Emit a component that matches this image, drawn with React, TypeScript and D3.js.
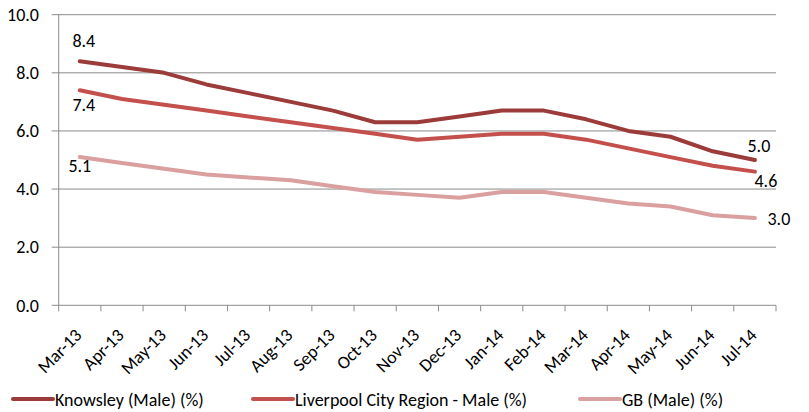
import React from "react";
import * as d3 from "d3";

const months = [
  "Mar-13", "Apr-13", "May-13", "Jun-13", "Jul-13", "Aug-13", "Sep-13", "Oct-13", "Nov-13",
  "Dec-13", "Jan-14", "Feb-14", "Mar-14", "Apr-14", "May-14", "Jun-14", "Jul-14",
];
const knowsley = [8.4, 8.2, 8.0, 7.6, 7.3, 7.0, 6.7, 6.3, 6.3, 6.5, 6.7, 6.7, 6.4, 6.0, 5.8, 5.3, 5.0];
const liverpool = [7.4, 7.1, 6.9, 6.7, 6.5, 6.3, 6.1, 5.9, 5.7, 5.8, 5.9, 5.9, 5.7, 5.4, 5.1, 4.8, 4.6];
const gb = [5.1, 4.9, 4.7, 4.5, 4.4, 4.3, 4.1, 3.9, 3.8, 3.7, 3.9, 3.9, 3.7, 3.5, 3.4, 3.1, 3.0];
const yTicks = [0, 2, 4, 6, 8, 10];

// label offsets (dx, dy) for first and last values of each series
const series = [
  { name: "Knowsley (Male)  (%)", values: knowsley, color: "#9b3b3a", first: [4, -14.5], last: [4, -8] },
  { name: "Liverpool City Region - Male  (%)", values: liverpool, color: "#c4504d", first: [4, 21], last: [11, 15] },
  { name: "GB (Male) (%)", values: gb, color: "#d9a09f", first: [0, 15], last: [24, 7] },
];
const legendX = [13, 253, 580];

const W = 809;
const H = 412;
const font = "Carlito, Calibri, 'Liberation Sans', sans-serif";

export default function App() {
  const left = 58.7;
  const right = 776;
  const top = 14.7;
  const bottom = 305.3;

  const x = d3.scaleBand<string>().domain(months).range([left, right]);
  const y = d3.scaleLinear().domain([0, 10]).range([bottom, top]);
  const cx = (i: number) => (x(months[i]) as number) + x.bandwidth() / 2;

  const line = d3
    .line<number>()
    .x((_, i) => cx(i))
    .y((d) => y(d));

  const edges = months.map((m) => x(m) as number).concat([right]);
  const n = months.length - 1;

  return (
    <svg
      width={W}
      height={H}
      style={{ position: "absolute", left: 0, top: 0, fontFamily: font }}
    >
      <rect width={W} height={H} fill="#fff" />
      {yTicks.map((t) => (
        <g key={t}>
          <line x1={left - 7} x2={right} y1={y(t)} y2={y(t)} stroke="#8a8a8a" strokeWidth={1} />
          <text x={39} y={y(t)} dy="0.35em" textAnchor="end" fontSize={18} fill="#000">
            {t.toFixed(1)}
          </text>
        </g>
      ))}
      <line x1={left} x2={left} y1={top} y2={bottom} stroke="#8a8a8a" />
      {edges.map((e, i) => (
        <line key={i} x1={e} x2={e} y1={bottom} y2={bottom + 6} stroke="#8a8a8a" />
      ))}
      {months.map((m, i) => (
        <text
          key={m}
          transform={`translate(${cx(i) + 3},${bottom + 31}) rotate(-45)`}
          textAnchor="end"
          fontSize={18}
          fill="#000"
        >
          {m}
        </text>
      ))}

      {series.map((s) => (
        <path
          key={s.name}
          d={line(s.values) as string}
          fill="none"
          stroke={s.color}
          strokeWidth={4}
          strokeLinejoin="round"
          strokeLinecap="round"
        />
      ))}

      {series.map((s) => (
        <g key={s.name + "lbl"} fontSize={18} fill="#000" textAnchor="middle">
          <text x={cx(0) + s.first[0]} y={y(s.values[0]) + s.first[1]}>
            {s.values[0].toFixed(1)}
          </text>
          <text x={cx(n) + s.last[0]} y={y(s.values[n]) + s.last[1]}>
            {s.values[n].toFixed(1)}
          </text>
        </g>
      ))}

      {series.map((s, i) => (
        <g key={s.name + "leg"}>
          <line
            x1={legendX[i]}
            x2={legendX[i] + 40}
            y1={399}
            y2={399}
            stroke={s.color}
            strokeWidth={4}
            strokeLinecap="round"
          />
          <text x={legendX[i] + 42} y={405.5} fontSize={18} fill="#000">
            {s.name}
          </text>
        </g>
      ))}
    </svg>
  );
}
